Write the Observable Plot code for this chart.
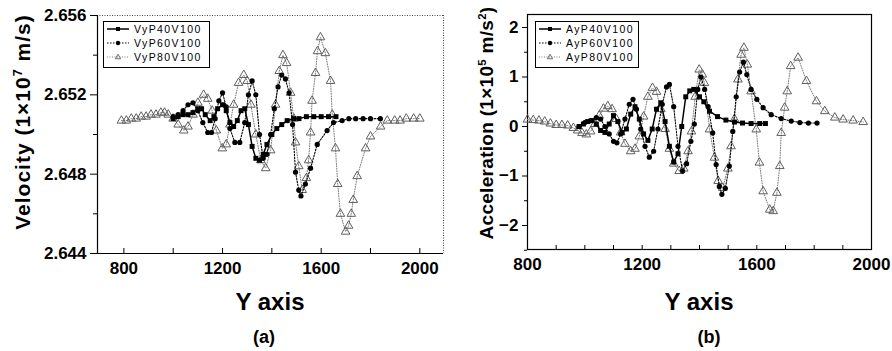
<!DOCTYPE html>
<html><head><meta charset="utf-8">
<script src="https://cdn.jsdelivr.net/npm/d3@7"></script>
<script src="https://cdn.jsdelivr.net/npm/@observablehq/plot@0.6"></script>
<style>
body{margin:0;background:#fff;}
#root{position:relative;width:892px;height:351px;overflow:hidden;font-family:'Liberation Sans',Arial,sans-serif;color:#000;background:#fff;}
.panel{position:absolute;top:0;}
.lbl{position:absolute;font-weight:bold;white-space:nowrap;line-height:1;}
.ylab{transform:translate(-50%,-50%) rotate(-90deg);}
.cx{transform:translate(-50%,-50%);}
sup{font-size:0.6em;vertical-align:0.6em;line-height:0;}
.legend{position:absolute;border:1px solid #000;background:#fff;font-size:10.5px;letter-spacing:1.4px;}
.row{position:absolute;left:2px;height:12px;display:flex;align-items:center;white-space:nowrap;}
.row svg{margin-right:4px;}
</style></head><body><div id="root"></div>
<script>
// ---- Panel (a): velocity (1e7 m/s) vs Y axis ----
const vP40x = [1000,1020,1040,1060,1080,1100,1115,1130,1150,1165,1180,1200,1215,1230,1245,1260,1275,1290,1305,1320,1335,1350,1365,1380,1400,1420,1440,1462,1489,1510,1540,1570,1600,1630,1660];
const vP40y = [2.6508,2.6509,2.6510,2.6510,2.6511,2.6513,2.6513,2.6510,2.6507,2.6509,2.6513,2.6515,2.6512,2.6506,2.6504,2.6507,2.6512,2.6513,2.6505,2.6494,2.6488,2.6487,2.6490,2.6495,2.6500,2.6503,2.6505,2.6507,2.6508,2.6508,2.6509,2.6509,2.6509,2.6509,2.6509];
const vP60x = [1000,1020,1040,1060,1080,1100,1120,1140,1155,1170,1185,1200,1215,1230,1250,1270,1290,1305,1320,1335,1350,1365,1380,1395,1410,1425,1440,1455,1470,1484,1496,1509,1518,1536,1557,1584,1624,1650,1685,1712,1740,1770,1800,1840];
const vP60y = [2.6509,2.6510,2.6512,2.6515,2.6516,2.6512,2.6506,2.6501,2.6501,2.6508,2.6517,2.6521,2.6514,2.6503,2.6496,2.6496,2.6506,2.6520,2.6527,2.6520,2.6500,2.6488,2.6490,2.6500,2.6513,2.6524,2.6530,2.6528,2.6521,2.6505,2.6481,2.6472,2.6469,2.6475,2.6483,2.6495,2.6502,2.6506,2.6507,2.6508,2.6508,2.6508,2.6508,2.6508];
const vP80x = [790,810,830,850,870,890,910,930,950,965,980,1000,1020,1043,1060,1080,1100,1123,1140,1158,1175,1199,1215,1230,1245,1265,1286,1300,1315,1335,1355,1375,1395,1415,1430,1445,1460,1476,1489,1496,1509,1523,1540,1549,1557,1563,1577,1585,1597,1617,1638,1645,1658,1667,1678,1699,1711,1722,1730,1746,1780,1800,1841,1868,1898,1920,1945,1975,2000];
const vP80y = [2.6507,2.6507,2.6508,2.6508,2.6509,2.6509,2.6510,2.6510,2.6511,2.6511,2.6510,2.6508,2.6505,2.6502,2.6504,2.6510,2.6516,2.6520,2.6518,2.6512,2.6502,2.6493,2.6495,2.6505,2.6515,2.6526,2.6530,2.6527,2.6515,2.6500,2.6487,2.6483,2.6492,2.6515,2.6532,2.6540,2.6536,2.6521,2.6508,2.6496,2.6484,2.6472,2.6478,2.6487,2.6501,2.6517,2.6531,2.6542,2.6549,2.6541,2.6527,2.6510,2.6493,2.6475,2.6460,2.6451,2.6454,2.6460,2.6467,2.6479,2.6493,2.6499,2.6504,2.6507,2.6507,2.6507,2.6508,2.6508,2.6508];
const vSeriesNames = ["VyP40V100","VyP60V100","VyP80V100"];
const vTicksMajor = [2.644,2.648,2.652,2.656];
const vTicksMinor = [2.646,2.650,2.654];
const xTicksLabelA = [800,1200,1600,2000];
const xTicksA = [800,1000,1200,1400,1600,1800,2000];
const xDomA = [693,2096];
const yDomA = [2.644,2.656];

// ---- Panel (b): acceleration (1e5 m/s^2) vs Y axis ----
const aP40x = [980,995,1010,1025,1040,1055,1070,1085,1100,1115,1130,1145,1160,1175,1190,1205,1220,1235,1250,1265,1280,1295,1310,1325,1338,1352,1366,1380,1400,1415,1435,1463,1492,1522,1550,1580,1610,1630];
const aP40y = [0.00,0.05,0.10,0.12,0.05,-0.08,-0.12,0.05,0.22,0.10,-0.12,-0.05,0.25,0.40,0.15,-0.15,-0.28,-0.05,0.35,0.48,0.10,-0.40,-0.72,-0.55,0.00,0.60,0.72,0.75,0.60,0.50,0.31,0.20,0.13,0.09,0.07,0.06,0.06,0.06];
const aP60x = [980,1000,1020,1040,1055,1070,1085,1100,1112,1125,1140,1155,1168,1180,1195,1210,1225,1240,1255,1270,1285,1295,1310,1325,1341,1355,1370,1382,1394,1405,1418,1430,1446,1458,1469,1478,1490,1504,1516,1528,1540,1553,1565,1580,1600,1622,1650,1685,1720,1750,1780,1810];
const aP60y = [0.00,0.08,0.12,0.18,0.15,0.00,-0.15,-0.30,-0.33,-0.15,0.15,0.45,0.55,0.35,-0.05,-0.40,-0.62,-0.50,-0.05,0.45,0.80,0.85,0.40,-0.40,-0.90,-0.75,-0.30,0.05,0.75,1.00,0.75,0.40,-0.13,-0.77,-1.21,-1.37,-1.25,-0.80,-0.10,0.60,1.10,1.30,1.05,0.75,0.55,0.38,0.24,0.16,0.11,0.08,0.07,0.07];
const aP80x = [800,820,840,860,880,900,920,940,960,975,990,1005,1020,1035,1050,1065,1080,1095,1110,1125,1140,1160,1175,1190,1205,1220,1236,1250,1265,1280,1295,1310,1329,1345,1360,1372,1385,1399,1410,1417,1435,1452,1465,1481,1499,1510,1522,1534,1545,1555,1567,1580,1598,1609,1622,1645,1657,1670,1680,1685,1697,1706,1718,1744,1773,1808,1837,1872,1901,1936,1971];
const aP80y = [0.14,0.13,0.12,0.10,0.06,0.03,0.03,0.02,-0.03,-0.08,-0.13,-0.16,-0.10,0.05,0.22,0.36,0.41,0.35,0.15,-0.12,-0.35,-0.50,-0.45,-0.20,0.20,0.60,0.78,0.70,0.35,-0.05,-0.45,-0.75,-0.90,-0.85,-0.50,-0.10,0.60,1.15,1.05,0.88,-0.06,-0.63,-1.10,-1.24,-0.85,-0.40,0.15,0.95,1.45,1.59,1.25,0.71,-0.06,-0.73,-1.31,-1.68,-1.71,-1.34,-0.80,-0.13,0.38,0.71,1.22,1.39,0.92,0.51,0.31,0.18,0.14,0.12,0.09];
const aSeriesNames = ["AyP40V100","AyP60V100","AyP80V100"];
const aTicksMajor = [-2,-1,0,1,2];
const aTicksMinor = [-2.5,-1.5,-0.5,0.5,1.5];
const xTicksLabelB = [800,1200,1600,2000];
const xTicksB = [800,900,1000,1100,1200,1300,1400,1500,1600,1700,1800,1900,2000];
const xDomB = [800,2000];
const yDomB = [-2.485,2.263];

const pts = (xs, ys) => xs.map((x, i) => ({x, y: ys[i]}));

const STYLE = "font-family:'Liberation Sans',Arial,sans-serif;font-size:17px;font-weight:bold;color:#000;background:transparent;overflow:visible;";
const seriesStyle = [
  {line: {stroke: "#000", strokeWidth: 1.5}, dot: {symbol: "square", r: 2.8, fill: "#000", stroke: "none"}},
  {line: {stroke: "#000", strokeWidth: 1.1, strokeDasharray: "1.5,1.5"}, dot: {symbol: "circle", r: 2.6, fill: "#000", stroke: "none"}},
  {line: {stroke: "#7d7d7d", strokeWidth: 1, strokeDasharray: "1,1.5"}, dot: {symbol: "triangle", r: 3.2, fill: "none", stroke: "#5f5f5f", strokeWidth: 1}}
];

function seriesMarks(list) {
  const m = [];
  // draw gray first, then P60, then P40 on top
  for (let k = list.length - 1; k >= 0; k--) {
    m.push(Plot.line(list[k], {x: "x", y: "y", ...seriesStyle[k].line}));
    m.push(Plot.dot(list[k], {x: "x", y: "y", ...seriesStyle[k].dot}));
  }
  return m;
}

const fmtInt = d3.format("d");

const plotA = Plot.plot({
  width: 446, height: 290,
  marginLeft: 97, marginRight: 3, marginTop: 15, marginBottom: 37,
  style: STYLE,
  x: {domain: xDomA, axis: null},
  y: {domain: yDomA, axis: null},
  marks: [
    Plot.ruleY([yDomA[1]], {stroke: "#444", strokeDasharray: "1,1.5", strokeWidth: 1}),
    Plot.ruleX([xDomA[1]], {stroke: "#444", strokeDasharray: "1,1.5", strokeWidth: 1}),
    ...seriesMarks([pts(vP40x, vP40y), pts(vP60x, vP60y), pts(vP80x, vP80y)]),
    Plot.ruleX([xDomA[0]], {stroke: "#000", strokeWidth: 1.2}),
    Plot.ruleY([yDomA[0]], {stroke: "#000", strokeWidth: 1.2}),
    Plot.axisY({ticks: vTicksMajor, tickSize: 7, tickPadding: 4, tickFormat: d3.format(".3f"), label: null}),
    Plot.axisY({ticks: vTicksMinor, tickSize: 4, tickFormat: () => "", label: null}),
    Plot.axisX({ticks: xTicksLabelA, tickSize: 0, tickPadding: 8, tickFormat: fmtInt, label: null}),
    Plot.axisX({ticks: xTicksA, tickSize: -5, tickFormat: () => "", label: null})
  ]
});

const plotB = Plot.plot({
  width: 446, height: 290,
  marginLeft: 81, marginRight: 21, marginTop: 14, marginBottom: 41,
  style: STYLE,
  x: {domain: xDomB, axis: null},
  y: {domain: yDomB, axis: null},
  marks: [
    Plot.frame({stroke: "#000", strokeWidth: 1.2}),
    ...seriesMarks([pts(aP40x, aP40y), pts(aP60x, aP60y), pts(aP80x, aP80y)]),
    Plot.axisY({ticks: aTicksMajor, tickSize: 5, tickPadding: 4, tickFormat: d3.format("d"), label: null}),
    Plot.axisY({ticks: aTicksMinor, tickSize: 3, tickFormat: () => "", label: null}),
    Plot.axisX({ticks: xTicksLabelB, tickSize: 0, tickPadding: 8, tickFormat: fmtInt, label: null}),
    Plot.axisX({ticks: xTicksB, tickSize: -4, tickFormat: () => "", label: null})
  ]
});

const root = document.getElementById("root");
plotA.classList.add("panel"); plotA.style.left = "0px";
plotB.classList.add("panel"); plotB.style.left = "446px";
root.appendChild(plotA);
root.appendChild(plotB);

function addLabel(html, x, y, size, cls, extra) {
  const d = document.createElement("div");
  d.className = "lbl " + cls;
  d.innerHTML = html;
  d.style.left = x + "px"; d.style.top = y + "px"; d.style.fontSize = size + "px";
  if (extra) Object.assign(d.style, extra);
  root.appendChild(d);
}
addLabel("Velocity (1×10<sup>7</sup> m/s)", 22, 122, 21, "ylab", {letterSpacing: "1px"});
addLabel("Acceleration (1×10<sup>5</sup> m/s<sup>2</sup>)", 486, 123, 19, "ylab", {letterSpacing: "0.3px"});
addLabel("Y axis", 270, 302, 24, "cx");
addLabel("Y axis", 699, 302, 24, "cx");
addLabel("(a)", 264, 337, 18, "cx");
addLabel("(b)", 709, 337, 18, "cx");

function sampleSvg(k) {
  const s = seriesStyle[k];
  const dash = s.line.strokeDasharray ? `stroke-dasharray="${s.line.strokeDasharray}"` : "";
  let mk;
  if (k === 0) mk = `<rect x="10" y="3" width="4" height="4" fill="#000"/>`;
  else if (k === 1) mk = `<circle cx="12" cy="5" r="2.2" fill="#000"/>`;
  else mk = `<path d="M12,2.2 L14.6,6.8 L9.4,6.8 Z" fill="none" stroke="#5f5f5f" stroke-width="0.9"/>`;
  return `<svg width="24" height="10"><line x1="1" y1="5" x2="23" y2="5" stroke="${s.line.stroke}" stroke-width="${s.line.strokeWidth}" ${dash}/>${mk}</svg>`;
}
function addLegend(names, left, top, w, h) {
  const box = document.createElement("div");
  box.className = "legend";
  Object.assign(box.style, {left: left + "px", top: top + "px", width: w + "px", height: h + "px"});
  names.forEach((n, k) => {
    const r = document.createElement("div");
    r.className = "row";
    r.style.top = (1 + 14 * k) + "px";
    r.innerHTML = sampleSvg(k) + `<span>${n}</span>`;
    box.appendChild(r);
  });
  root.appendChild(box);
}
addLegend(vSeriesNames, 103, 21, 105, 45);
addLegend(aSeriesNames, 535, 21, 102, 45);
</script></body></html>
